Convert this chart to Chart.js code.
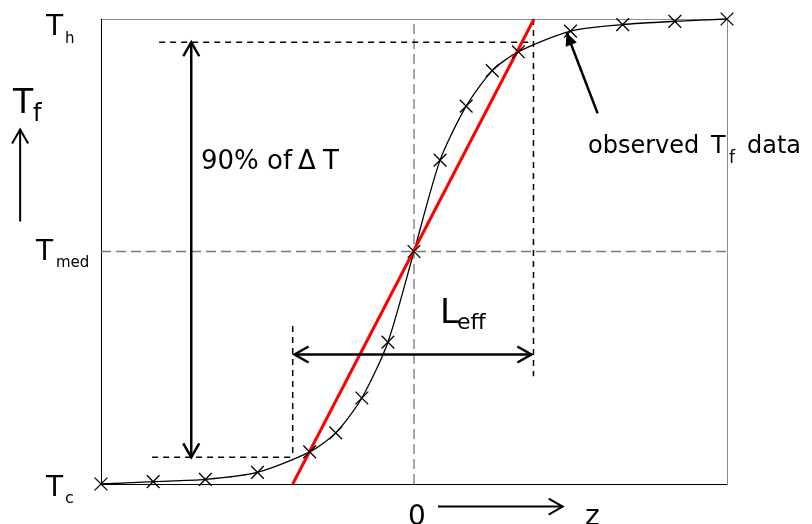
<!DOCTYPE html>
<html lang="en">
<head>
    <meta charset="UTF-8">
    <title>Observed Tf profile and effective length</title>
    <script src="https://cdn.jsdelivr.net/npm/chart.js"></script>
    <style>
        html, body { margin: 0; padding: 0; background: #fff; }
        .wrap { width: 812px; height: 524px; }
    </style>
</head>
<body>
    <div class="wrap">
        <canvas id="tfChart" width="812" height="524"></canvas>
    </div>

    <script>
        // observed Tf data (z in grid units, Tf scaled so Tc = -1, Tmed = 0, Th = 1)
        const zValues  = [-12, -10, -8, -6, -4, -3, -2, -1, 0, 1, 2, 3, 4, 6, 8, 10, 12];
        const tfValues = [-1.0, -0.99, -0.98, -0.95, -0.862, -0.78, -0.63, -0.39, 0,
                          0.393, 0.625, 0.778, 0.859, 0.948, 0.976, 0.99, 1.0];

        // linear fit through Tmed (red line)
        const fitZ = [-4.65, 4.6];
        const fitT = [-1, 1];

        // guide lines: [z1, t1, z2, t2]
        const blackDashes = [
            [-9.77, 0.9, 4.58, 0.9],
            [4.58, 1, 4.58, -0.537],
            [-10.04, -0.885, -4.65, -0.885],
            [-4.65, -0.32, -4.65, -0.885]
        ];
        const medLine = [-12, 0, 12, 0];
        const zeroLine = [0, -1, 0, 1];

        // arrows: [z1, t1, z2, t2, heads]
        const arrows = [
            [-8.54, -0.885, -8.54, 0.9, 'both'],
            [-4.58, -0.443, 4.5, -0.443, 'both'],
            [7.04, 0.594, 5.85, 0.942, 'filled'],
            [-15.1, 0.129, -15.1, 0.525, 'end'],
            [0.92, -1.097, 5.7, -1.097, 'end']
        ];

        const FONT = '"DejaVu Sans", sans-serif';

        // text pieces, pixel anchors on the canvas
        const labels = [
            ['T', 46, 35, 28], ['h', 65, 43, 15],
            ['T', 13, 113, 33], ['f', 33, 121, 24],
            ['T', 36, 260, 28], ['med', 56, 267, 15],
            ['T', 46, 496, 28], ['c', 65, 503, 16],
            ['90% of', 201, 169, 26], ['\u0394', 298, 169, 26], ['T', 323, 169, 26],
            ['L', 440, 323, 34], ['eff', 457, 329, 22],
            ['observed', 588, 153, 24], ['T', 711, 153, 24], ['f', 729, 163, 17], ['data', 747, 153, 24],
            ['0', 408, 525, 28], ['z', 585, 525, 28]
        ];

        function seg(s, color, dash, width) {
            return {
                data: [{ x: s[0], y: s[1] }, { x: s[2], y: s[3] }],
                borderColor: color,
                borderWidth: width,
                borderDash: dash,
                pointRadius: 0,
                fill: false,
                clip: false
            };
        }

        const observed = zValues.map((z, i) => ({ x: z, y: tfValues[i] }));

        // first dataset is drawn on top
        const datasets = [
            {
                data: observed,
                showLine: false,
                pointStyle: 'crossRot',
                pointRadius: 9,
                pointBorderWidth: 1.3,
                pointBorderColor: '#000',
                clip: false
            },
            seg([fitZ[0], fitT[0], fitZ[1], fitT[1]], '#ff0000', [], 3),
            {
                data: observed,
                borderColor: '#000',
                borderWidth: 1.3,
                tension: 0.25,
                pointRadius: 0,
                clip: false
            },
            ...blackDashes.map(s => seg(s, '#000', [6, 5], 1.5)),
            seg(zeroLine, '#4a4a4a', [10, 5], 1),
            seg(medLine, '#7a7a7a', [10, 5], 1.6)
        ];

        function head(ctx, x1, y1, x2, y2, len, half, filled) {
            const d = Math.hypot(x2 - x1, y2 - y1);
            const ux = (x2 - x1) / d, uy = (y2 - y1) / d;
            const bx = x2 - ux * len, by = y2 - uy * len;
            ctx.beginPath();
            ctx.moveTo(bx - uy * half, by + ux * half);
            ctx.lineTo(x2, y2);
            ctx.lineTo(bx + uy * half, by - ux * half);
            if (filled) { ctx.closePath(); ctx.fill(); } else { ctx.stroke(); }
        }

        const framePlugin = {
            id: 'frame',
            beforeDatasetsDraw(chart) {
                const { ctx, chartArea: a } = chart;
                ctx.save();
                ctx.lineWidth = 1;
                ctx.strokeStyle = '#8c8c8c';
                ctx.beginPath();
                ctx.moveTo(a.left, a.top + 0.5);
                ctx.lineTo(a.right + 0.5, a.top + 0.5);
                ctx.lineTo(a.right + 0.5, a.bottom);
                ctx.stroke();
                ctx.strokeStyle = '#000';
                ctx.beginPath();
                ctx.moveTo(a.left + 0.5, a.top);
                ctx.lineTo(a.left + 0.5, a.bottom + 0.5);
                ctx.lineTo(a.right + 0.5, a.bottom + 0.5);
                ctx.stroke();
                ctx.restore();
            }
        };

        const notesPlugin = {
            id: 'notes',
            afterDraw(chart) {
                const { ctx, scales: { x, y } } = chart;
                ctx.save();
                ctx.strokeStyle = '#000';
                ctx.fillStyle = '#000';
                ctx.lineCap = 'butt';
                arrows.forEach(a => {
                    const x1 = x.getPixelForValue(a[0]), y1 = y.getPixelForValue(a[1]);
                    const x2 = x.getPixelForValue(a[2]), y2 = y.getPixelForValue(a[3]);
                    ctx.lineWidth = a[4] === 'end' ? 2 : 2.5;
                    ctx.beginPath();
                    ctx.moveTo(x1, y1);
                    ctx.lineTo(x2, y2);
                    ctx.stroke();
                    if (a[4] === 'filled') {
                        head(ctx, x1, y1, x2, y2, 13, 6, true);
                    } else {
                        head(ctx, x1, y1, x2, y2, 14, 8, false);
                        if (a[4] === 'both') head(ctx, x2, y2, x1, y1, 14, 8, false);
                    }
                });
                ctx.textAlign = 'left';
                ctx.textBaseline = 'alphabetic';
                labels.forEach(l => {
                    ctx.font = l[3] + 'px ' + FONT;
                    ctx.fillText(l[0], l[1], l[2]);
                });
                ctx.restore();
            }
        };

        new Chart(document.getElementById('tfChart'), {
            type: 'scatter',
            data: { datasets: datasets.map(d => Object.assign({ showLine: true }, d)) },
            options: {
                responsive: false,
                animation: false,
                events: [],
                layout: { padding: { left: 101, right: 85, top: 19, bottom: 40 } },
                plugins: { legend: { display: false }, tooltip: { enabled: false } },
                scales: {
                    x: { type: 'linear', min: -12, max: 12, display: false },
                    y: { type: 'linear', min: -1, max: 1, display: false }
                }
            },
            plugins: [framePlugin, notesPlugin]
        });
    </script>
</body>
</html>
